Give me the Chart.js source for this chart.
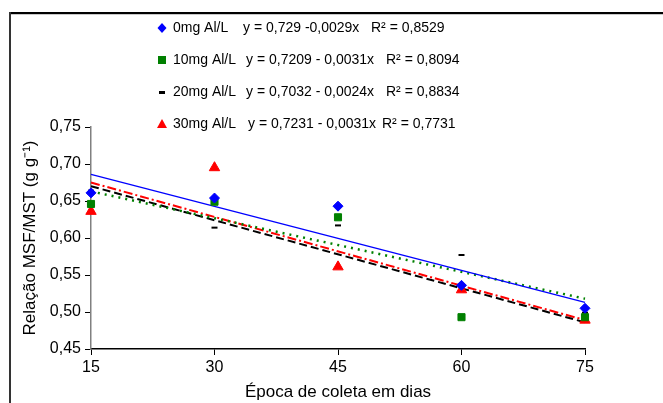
<!DOCTYPE html>
<html lang="pt">

<head>
  <meta charset="UTF-8">
  <title>Relação MSF/MST</title>
  <script src="https://cdn.jsdelivr.net/npm/chart.js"></script>
  <style>
    body {
      margin: 0;
      background-color: #fff;
    }

    #wrap {
      width: 663px;
      height: 403px;
    }
  </style>
</head>

<body>
  <div id="wrap"><canvas id="chart" width="663" height="403"></canvas></div>

  <script>
    // collection days
    const days = [15, 30, 45, 60, 75];

    // observed MSF/MST ratio per Al dose
    const al0 = [0.661, 0.654, 0.643, 0.536, 0.505];
    const al10 = [0.646, 0.649, 0.628, 0.493, 0.493];
    const al20 = [0.664, 0.614, 0.617, 0.577, 0.499];
    const al30 = [0.636, 0.695, 0.561, 0.530, 0.489];

    // trend lines as drawn, value at day 15 and day 75
    const trendDays = [15, 75];
    const trend0 = [0.686, 0.513];
    const trend10 = [0.663, 0.518];
    const trend20 = [0.670, 0.486];
    const trend30 = [0.675, 0.489];

    const seriesNames = ['0mg Al/L', '10mg Al/L', '20mg Al/L', '30mg Al/L'];
    const equations = ['y = 0,729 -0,0029x', 'y = 0,7209 - 0,0031x', 'y = 0,7032 - 0,0024x', 'y = 0,7231 - 0,0031x'];
    const rSquared = ['R² = 0,8529', 'R² = 0,8094', 'R² = 0,8834', 'R² = 0,7731'];

    const yTicks = [0.45, 0.50, 0.55, 0.60, 0.65, 0.70, 0.75];
    const xTicks = [15, 30, 45, 60, 75];

    const FONT = 'Liberation Sans, Arial, sans-serif';
    const colors = ['#0000ff', '#008000', '#000000', '#ff0000'];

    function pts(xs, ys) {
      return xs.map((x, i) => ({ x: x, y: ys[i] }));
    }

    function trendSet(vals, color, dash, width) {
      return {
        type: 'line',
        data: pts(trendDays, vals),
        borderColor: color,
        borderWidth: width,
        borderDash: dash,
        pointRadius: 0,
        fill: false,
        clip: false,
        order: 5
      };
    }

    function markSet(vals, color, style, radius) {
      return {
        type: 'scatter',
        data: pts(days, vals),
        pointStyle: style,
        pointRadius: radius,
        pointBackgroundColor: color,
        pointBorderColor: color,
        pointBorderWidth: style === 'line' ? 2 : 1,
        clip: false,
        order: 1
      };
    }

    // frame lines + legend drawn by hand
    const framePlugin = {
      id: 'frame',
      afterDraw(chart) {
        const ctx = chart.ctx;
        ctx.save();
        ctx.fillStyle = '#000';
        ctx.fillRect(10, 12, 653, 2);
        ctx.fillStyle = '#c8c8c8';
        ctx.fillRect(11, 14, 652, 1);
        ctx.fillStyle = '#333';
        ctx.fillRect(9, 12, 2, 391);

        const rowsY = [28, 60, 92, 124];
        const eqX = [243, 246, 246, 248];
        const rX = [371, 386, 386, 382];
        ctx.font = '14px ' + FONT;
        ctx.textBaseline = 'middle';
        for (let i = 0; i < 4; i++) {
          const y = rowsY[i];
          const mx = 162;
          ctx.fillStyle = colors[i];
          ctx.beginPath();
          if (i === 0) {
            ctx.moveTo(mx, y - 5); ctx.lineTo(mx + 4.5, y); ctx.lineTo(mx, y + 5); ctx.lineTo(mx - 4.5, y);
            ctx.closePath(); ctx.fill();
          } else if (i === 1) {
            ctx.fillRect(mx - 4, y - 4, 8, 8);
          } else if (i === 2) {
            ctx.fillRect(mx - 3, y - 1, 6, 3);
          } else {
            ctx.moveTo(mx, y - 5); ctx.lineTo(mx + 5, y + 4); ctx.lineTo(mx - 5, y + 4);
            ctx.closePath(); ctx.fill();
          }
          ctx.fillStyle = '#000';
          ctx.fillText(seriesNames[i], 173, y);
          ctx.fillText(equations[i], eqX[i], y);
          ctx.fillText(rSquared[i], rX[i], y);
        }
        ctx.restore();
      }
    };

    new Chart(document.getElementById('chart'), {
      type: 'scatter',
      data: {
        datasets: [
          markSet(al0, colors[0], 'rectRot', 5),
          markSet(al10, colors[1], 'rect', 5),
          markSet(al20, colors[2], 'line', 3),
          markSet(al30, colors[3], 'triangle', 6),
          trendSet(trend0, colors[0], [], 1.3),
          trendSet(trend10, colors[1], [2, 5], 2.5),
          trendSet(trend20, colors[2], [8, 4], 2),
          trendSet(trend30, colors[3], [9, 3, 2, 3], 2)
        ]
      },
      options: {
        responsive: false,
        animation: false,
        layout: {
          padding: { top: 127, right: 78, bottom: 0, left: 20 }
        },
        plugins: {
          legend: { display: false },
          tooltip: { enabled: false }
        },
        scales: {
          x: {
            type: 'linear',
            min: 15,
            max: 75,
            afterBuildTicks: (scale) => { scale.ticks = xTicks.map(v => ({ value: v })); },
            afterFit: (scale) => { scale.height = 54; },
            ticks: {
              color: '#000',
              font: { family: FONT, size: 16 },
              padding: 3
            },
            grid: { drawOnChartArea: false, drawTicks: true, tickLength: 6, color: '#000' },
            border: { color: '#000', width: 1.5 },
            title: {
              display: true,
              text: 'Época de coleta em dias',
              color: '#000',
              font: { family: FONT, size: 17 },
              padding: { top: 0, bottom: 0 }
            }
          },
          y: {
            min: 0.45,
            max: 0.75,
            afterBuildTicks: (scale) => { scale.ticks = yTicks.map(v => ({ value: v })); },
            afterFit: (scale) => { scale.width = 71; },
            ticks: {
              color: '#000',
              font: { family: FONT, size: 16 },
              padding: 4,
              callback: (v) => v.toFixed(2).replace('.', ',')
            },
            grid: { drawOnChartArea: false, drawTicks: true, tickLength: 6, color: '#000' },
            border: { color: '#808080', width: 1.5 },
            title: {
              display: true,
              text: 'Relação MSF/MST (g g⁻¹)',
              color: '#000',
              font: { family: FONT, size: 17 },
              padding: { top: 0, bottom: 0 }
            }
          }
        }
      },
      plugins: [framePlugin]
    });
  </script>
</body>

</html>
